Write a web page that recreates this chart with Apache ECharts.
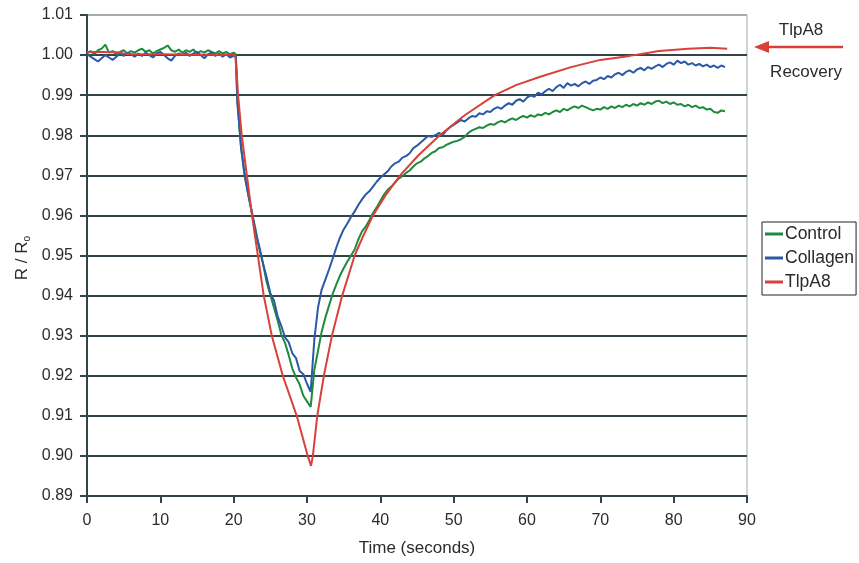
<!DOCTYPE html>
<html>
<head>
<meta charset="utf-8">
<script src="https://cdn.jsdelivr.net/npm/echarts@6/dist/echarts.min.js"></script>
<style>
  html, body { margin: 0; padding: 0; background: #ffffff; }
  #chart { width: 859px; height: 563px; }
</style>
</head>
<body>
<div id="chart"></div>
<script>
// Sample times (seconds) shared by the Control and Collagen traces
const timeSec = [
  0, 0.5, 1, 1.5, 2, 2.5, 3, 3.5, 4, 4.5, 5, 5.5, 6, 6.5, 7, 7.5, 8, 8.5, 9, 9.5,
  10, 10.5, 11, 11.5, 12, 12.5, 13, 13.5, 14, 14.5, 15, 15.5, 16, 16.5, 17, 17.5, 18, 18.5, 19, 19.5,
  20, 20.3, 20.5, 21, 21.5, 22, 22.5, 23, 23.5, 24, 24.5, 25, 25.5, 26, 26.5, 27, 27.5, 28, 28.5, 29,
  29.5, 30, 30.5, 31, 31.5, 32, 32.5, 33, 33.5, 34, 34.5, 35, 35.5, 36, 36.5, 37, 37.5, 38, 38.5, 39,
  39.5, 40, 40.5, 41, 41.5, 42, 42.5, 43, 43.5, 44, 44.5, 45, 45.5, 46, 46.5, 47, 47.5, 48, 48.5, 49,
  49.5, 50, 50.5, 51, 51.5, 52, 52.5, 53, 53.5, 54, 54.5, 55, 55.5, 56, 56.5, 57, 57.5, 58, 58.5, 59,
  59.5, 60, 60.5, 61, 61.5, 62, 62.5, 63, 63.5, 64, 64.5, 65, 65.5, 66, 66.5, 67, 67.5, 68, 68.5, 69,
  69.5, 70, 70.5, 71, 71.5, 72, 72.5, 73, 73.5, 74, 74.5, 75, 75.5, 76, 76.5, 77, 77.5, 78, 78.5, 79,
  79.5, 80, 80.5, 81, 81.5, 82, 82.5, 83, 83.5, 84, 84.5, 85, 85.5, 86, 86.5, 87
];

// Control: R / Ro
const controlRatio = [
  1.0004, 1.0010, 1.0002, 1.0012, 1.0016, 1.0026, 1.0006, 1.0010, 1.0002, 1.0008,
  1.0012, 1.0004, 1.0010, 1.0006, 1.0012, 1.0016, 1.0008, 1.0012, 1.0004, 1.0010,
  1.0014, 1.0018, 1.0024, 1.0012, 1.0008, 1.0014, 1.0006, 1.0012, 1.0008, 1.0014,
  1.0004, 1.0010, 1.0006, 1.0012, 1.0008, 1.0004, 1.0010, 1.0004, 1.0008, 1.0002,
  1.0006, 1.0002,
  0.9885, 0.9772, 0.9698, 0.9652, 0.9604, 0.9564, 0.9516, 0.9480, 0.9434, 0.9402,
  0.9370, 0.9338, 0.9302, 0.9282, 0.9252, 0.9218, 0.9196, 0.9178, 0.9150, 0.9136, 0.9122,
  0.9215, 0.9262, 0.9310, 0.9345, 0.9375, 0.9404, 0.9428, 0.9450, 0.9468, 0.9485,
  0.9500, 0.9515, 0.9540, 0.9560, 0.9572, 0.9588, 0.9606, 0.9620, 0.9636, 0.9652,
  0.9664, 0.9672, 0.9682, 0.9692, 0.9698, 0.9706, 0.9712, 0.9722, 0.9730, 0.9734,
  0.9742, 0.9748, 0.9756, 0.9760, 0.9768, 0.9770, 0.9776, 0.9780, 0.9784, 0.9786,
  0.9790, 0.9796, 0.9806, 0.9812, 0.9816, 0.9820, 0.9818, 0.9824, 0.9828, 0.9826,
  0.9832, 0.9836, 0.9832, 0.9838, 0.9842, 0.9838, 0.9844, 0.9848, 0.9844, 0.9850,
  0.9846, 0.9852, 0.9850, 0.9856, 0.9852, 0.9858, 0.9862, 0.9858, 0.9866, 0.9862,
  0.9868, 0.9872, 0.9868, 0.9874, 0.9870, 0.9866, 0.9862, 0.9866, 0.9864, 0.9870,
  0.9866, 0.9872, 0.9868, 0.9874, 0.9870, 0.9876, 0.9872, 0.9878, 0.9874, 0.9880,
  0.9876, 0.9882, 0.9878, 0.9884, 0.9886, 0.9880, 0.9884, 0.9878, 0.9882, 0.9876,
  0.9878, 0.9872, 0.9876, 0.9870, 0.9874, 0.9868, 0.9870, 0.9864, 0.9866, 0.9858,
  0.9856, 0.9862, 0.9860
];

// Collagen: R / Ro
const collagenRatio = [
  1.0002, 0.9996, 0.9990, 0.9984, 0.9992, 1.0000, 0.9994, 0.9988, 0.9996, 1.0004,
  0.9998, 1.0006, 1.0002, 0.9996, 1.0004, 0.9998, 1.0006, 1.0000, 0.9994, 1.0004,
  1.0008, 1.0000, 0.9992, 0.9986, 0.9998, 1.0004, 1.0000, 1.0006, 0.9998, 1.0004,
  1.0008, 1.0000, 0.9992, 1.0002, 1.0006, 0.9998, 1.0004, 0.9996, 1.0002, 0.9994,
  0.9998, 0.9996,
  0.9885, 0.9770, 0.9702, 0.9650, 0.9608, 0.9556, 0.9522, 0.9480, 0.9445, 0.9406,
  0.9388, 0.9348, 0.9324, 0.9296, 0.9284, 0.9256, 0.9244, 0.9212, 0.9204, 0.9180, 0.9160,
  0.9290, 0.9370, 0.9415, 0.9440, 0.9465, 0.9492, 0.9520, 0.9545, 0.9565, 0.9580,
  0.9596, 0.9610, 0.9626, 0.9640, 0.9652, 0.9660, 0.9672, 0.9684, 0.9694, 0.9702,
  0.9710, 0.9722, 0.9730, 0.9734, 0.9744, 0.9748, 0.9755, 0.9768, 0.9774, 0.9782,
  0.9790, 0.9798, 0.9796, 0.9800, 0.9806, 0.9800, 0.9812, 0.9820, 0.9826, 0.9832,
  0.9838, 0.9834, 0.9842, 0.9848, 0.9846, 0.9855, 0.9852, 0.9860, 0.9858, 0.9866,
  0.9870, 0.9866, 0.9874, 0.9880, 0.9876, 0.9886, 0.9890, 0.9884, 0.9894, 0.9900,
  0.9896, 0.9906, 0.9902, 0.9910, 0.9916, 0.9910, 0.9920, 0.9926, 0.9918, 0.9930,
  0.9924, 0.9928, 0.9922, 0.9930, 0.9934, 0.9928, 0.9936, 0.9938, 0.9944, 0.9940,
  0.9948, 0.9944, 0.9952, 0.9956, 0.9950, 0.9958, 0.9962, 0.9956, 0.9964, 0.9968,
  0.9962, 0.9970, 0.9966, 0.9972, 0.9976, 0.9970, 0.9978, 0.9982, 0.9976, 0.9986,
  0.9980, 0.9984, 0.9976, 0.9980, 0.9974, 0.9978, 0.9972, 0.9976, 0.9970, 0.9974,
  0.9968, 0.9974, 0.9970
];

// TlpA8: smooth trace, sampled at its own times
const tlpTime = [
  0, 2, 4, 5, 6, 10, 15, 20.2, 20.4, 20.6, 21.1, 21.8, 22.5, 23.3, 24.1, 25.2, 26.7, 28.6,
  30.1, 30.55, 30.8, 31.4, 32.3, 33.4, 34.8, 36.5, 37.7, 39.0, 40.7, 42.7, 45.2, 48.1,
  51.5, 55.6, 58.5, 61.8, 66, 70, 74, 76, 78, 82, 85, 87.3
];
const tlpRatio = [
  1.0008, 1.0008, 1.0007, 1.0004, 1.0002, 1.0002, 1.0001, 1.0001, 0.9960, 0.9900, 0.9800,
  0.9700, 0.9600, 0.9500, 0.9400, 0.9300, 0.9200, 0.9100,
  0.9000, 0.8975, 0.9000, 0.9100, 0.9200, 0.9300, 0.9400, 0.9500, 0.9550, 0.9600, 0.9650,
  0.9700, 0.9750, 0.9800,
  0.9850, 0.9900, 0.9925, 0.9946, 0.9970, 0.9988, 0.9998, 1.0004, 1.0010, 1.0016, 1.0018, 1.0016
];

const seriesNames = ['Control', 'Collagen', 'TlpA8'];
const seriesColors = ['#1d8b3d', '#2b59a5', '#d9403a'];

const pair = (xs, ys) => xs.map((x, i) => [x, ys[i]]);

const FONT = '"Liberation Sans", Arial, Helvetica, sans-serif';
const AXIS_COLOR = '#33434a';
const TEXT_COLOR = '#2b2b2b';

const chart = echarts.init(document.getElementById('chart'), null, { renderer: 'canvas' });

// horizontal grid lines: dark for 0.89 .. 1.00, the top edge at 1.01 is light
const gridLineColors = [];
for (let i = 0; i < 12; i++) gridLineColors.push(AXIS_COLOR);
gridLineColors.push('#a3abaf');

chart.setOption({
  backgroundColor: '#ffffff',
  animation: false,
  textStyle: { fontFamily: FONT },
  grid: {
    left: 87, right: 112, top: 15, bottom: 67,
    show: true, borderColor: '#a3abaf', borderWidth: 1, backgroundColor: 'transparent'
  },
  xAxis: {
    type: 'value', min: 0, max: 90, interval: 10,
    name: 'Time (seconds)', nameLocation: 'middle', nameGap: 44,
    nameTextStyle: { fontSize: 17, color: TEXT_COLOR, fontFamily: FONT },
    axisLine: { lineStyle: { color: AXIS_COLOR, width: 2 } },
    axisTick: { show: true, inside: false, length: 7, lineStyle: { color: AXIS_COLOR, width: 2 } },
    axisLabel: { fontSize: 16, color: TEXT_COLOR, margin: 17, fontFamily: FONT },
    splitLine: { show: false }
  },
  yAxis: {
    type: 'value', min: 0.89, max: 1.01, interval: 0.01,
    axisLine: { show: true, lineStyle: { color: AXIS_COLOR, width: 2 } },
    axisTick: { show: true, inside: false, length: 7, lineStyle: { color: AXIS_COLOR, width: 2 } },
    axisLabel: {
      fontSize: 16, color: TEXT_COLOR, margin: 14, fontFamily: FONT,
      formatter: v => v.toFixed(2)
    },
    splitLine: { show: true, lineStyle: { color: gridLineColors, width: 2 } }
  },
  legend: {
    orient: 'vertical', left: 762, top: 222,
    padding: [3, 2, 4, 3], itemGap: 6,
    itemWidth: 18, itemHeight: 3, icon: 'rect',
    borderColor: '#222', borderWidth: 1, backgroundColor: '#fff',
    textStyle: { fontSize: 17.5, color: TEXT_COLOR, fontFamily: FONT, padding: [0, 0, 0, -3] },
    data: seriesNames
  },
  graphic: [
    {
      type: 'text', x: 22, y: 258, rotation: Math.PI / 2,
      style: {
        text: '{a|R / R}{b|o}',
        align: 'center', verticalAlign: 'middle',
        rich: {
          a: { fontSize: 17, fill: TEXT_COLOR, fontFamily: FONT, lineHeight: 20 },
          b: { fontSize: 10, fill: TEXT_COLOR, fontFamily: FONT, lineHeight: 20, padding: [10, 0, 0, 0] }
        }
      }
    },
    {
      type: 'text', x: 801, y: 30,
      style: { text: 'TlpA8', fontSize: 17, fill: TEXT_COLOR, fontFamily: FONT, align: 'center', verticalAlign: 'middle' }
    },
    {
      type: 'text', x: 806, y: 72,
      style: { text: 'Recovery', fontSize: 17, fill: TEXT_COLOR, fontFamily: FONT, align: 'center', verticalAlign: 'middle' }
    },
    {
      type: 'line',
      shape: { x1: 766, y1: 47, x2: 843, y2: 47 },
      style: { stroke: '#d9403a', lineWidth: 2.5 }
    },
    {
      type: 'polygon',
      shape: { points: [[754, 47], [769, 41], [769, 53]] },
      style: { fill: '#d9403a' }
    }
  ],
  series: [
    {
      name: 'Control', type: 'line', data: pair(timeSec, controlRatio),
      showSymbol: false, symbol: 'none', color: seriesColors[0],
      lineStyle: { width: 2, color: seriesColors[0] }
    },
    {
      name: 'Collagen', type: 'line', data: pair(timeSec, collagenRatio),
      showSymbol: false, symbol: 'none', color: seriesColors[1],
      lineStyle: { width: 2, color: seriesColors[1] }
    },
    {
      name: 'TlpA8', type: 'line', data: pair(tlpTime, tlpRatio),
      showSymbol: false, symbol: 'none', color: seriesColors[2],
      lineStyle: { width: 2, color: seriesColors[2] }
    }
  ]
});
</script>
</body>
</html>
